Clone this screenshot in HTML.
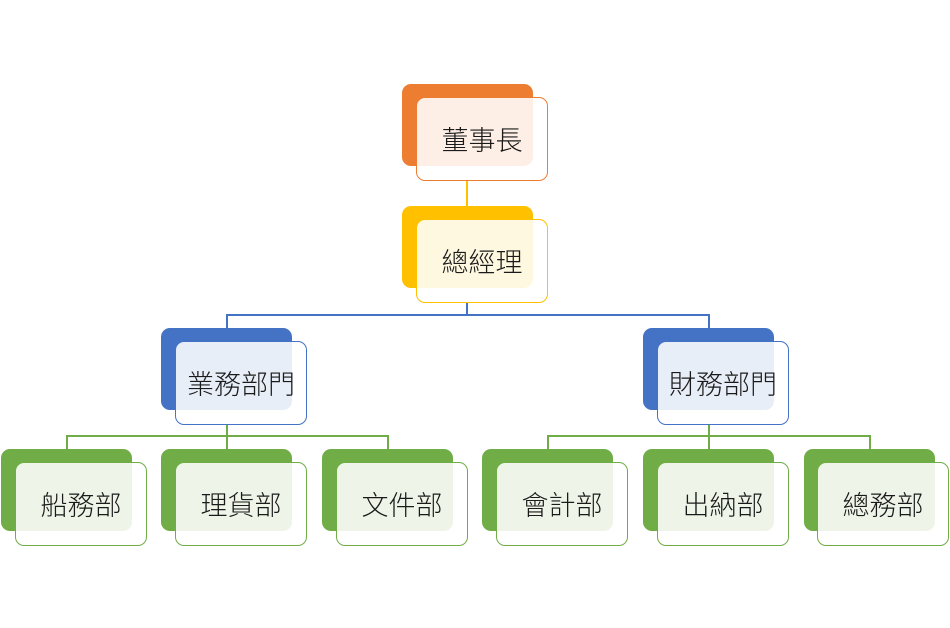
<!DOCTYPE html>
<html><head><meta charset="utf-8"><style>
body{margin:0;width:950px;height:628px;background:#fff;position:relative;overflow:hidden;font-family:"Liberation Sans","Noto Sans CJK TC",sans-serif}
.b{position:absolute;width:131px;height:82px;border-radius:9px}
.f{position:absolute;width:130px;height:82px;border-radius:9px;background:rgba(255,255,255,0.88);border:1.5px solid;box-sizing:border-box;display:flex;align-items:center;justify-content:center;font-size:27px;font-weight:300;color:#1a1a1a;padding-bottom:2px}
.l{position:absolute}
</style></head><body>
<div class="l" style="left:466px;top:181px;width:2px;height:26px;background:#ffc000"></div>
<div class="l" style="left:466px;top:302px;width:2px;height:13px;background:#4472c4"></div>
<div class="l" style="left:226px;top:314px;width:483px;height:1.5px;background:#4472c4"></div>
<div class="l" style="left:226px;top:314px;width:1.5px;height:15px;background:#4472c4"></div>
<div class="l" style="left:708px;top:314px;width:1.5px;height:15px;background:#4472c4"></div>
<div class="l" style="left:226px;top:424px;width:2px;height:13px;background:#70ad47"></div>
<div class="l" style="left:708px;top:424px;width:2px;height:13px;background:#70ad47"></div>
<div class="l" style="left:66px;top:435px;width:322px;height:1.5px;background:#70ad47"></div>
<div class="l" style="left:547px;top:435px;width:323px;height:1.5px;background:#70ad47"></div>
<div class="l" style="left:66px;top:435px;width:1.5px;height:15px;background:#70ad47"></div>
<div class="l" style="left:226px;top:435px;width:2px;height:15px;background:#70ad47"></div>
<div class="l" style="left:387px;top:435px;width:1.5px;height:15px;background:#70ad47"></div>
<div class="l" style="left:547px;top:435px;width:1.5px;height:15px;background:#70ad47"></div>
<div class="l" style="left:708px;top:435px;width:2px;height:15px;background:#70ad47"></div>
<div class="l" style="left:869px;top:435px;width:1.5px;height:15px;background:#70ad47"></div>

<div class="b" style="left:402px;top:84px;background:#ed7d31"></div>
<div class="f" style="left:416px;top:97px;width:132px;height:84px;border-color:#ed7d31">董事長</div>
<div class="b" style="left:402px;top:206px;background:#ffc000"></div>
<div class="f" style="left:416px;top:219px;width:132px;height:84px;border-color:#ffc000">總經理</div>

<div class="b" style="left:161px;top:328px;background:#4472c4"></div>
<div class="f" style="left:175px;top:341px;width:132px;height:84px;border-color:#4472c4">業務部門</div>
<div class="b" style="left:643px;top:328px;background:#4472c4"></div>
<div class="f" style="left:657px;top:341px;width:132px;height:84px;border-color:#4472c4">財務部門</div>

<div class="b" style="left:1px;top:449px;background:#70ad47"></div>
<div class="f" style="left:15px;top:462px;width:132px;height:84px;border-color:#70ad47">船務部</div>
<div class="b" style="left:161px;top:449px;background:#70ad47"></div>
<div class="f" style="left:175px;top:462px;width:132px;height:84px;border-color:#70ad47">理貨部</div>
<div class="b" style="left:322px;top:449px;background:#70ad47"></div>
<div class="f" style="left:336px;top:462px;width:132px;height:84px;border-color:#70ad47">文件部</div>
<div class="b" style="left:482px;top:449px;background:#70ad47"></div>
<div class="f" style="left:496px;top:462px;width:132px;height:84px;border-color:#70ad47">會計部</div>
<div class="b" style="left:643px;top:449px;background:#70ad47"></div>
<div class="f" style="left:657px;top:462px;width:132px;height:84px;border-color:#70ad47">出納部</div>
<div class="b" style="left:804px;top:449px;background:#70ad47"></div>
<div class="f" style="left:817px;top:462px;width:132px;height:84px;border-color:#70ad47">總務部</div>
</body></html>
